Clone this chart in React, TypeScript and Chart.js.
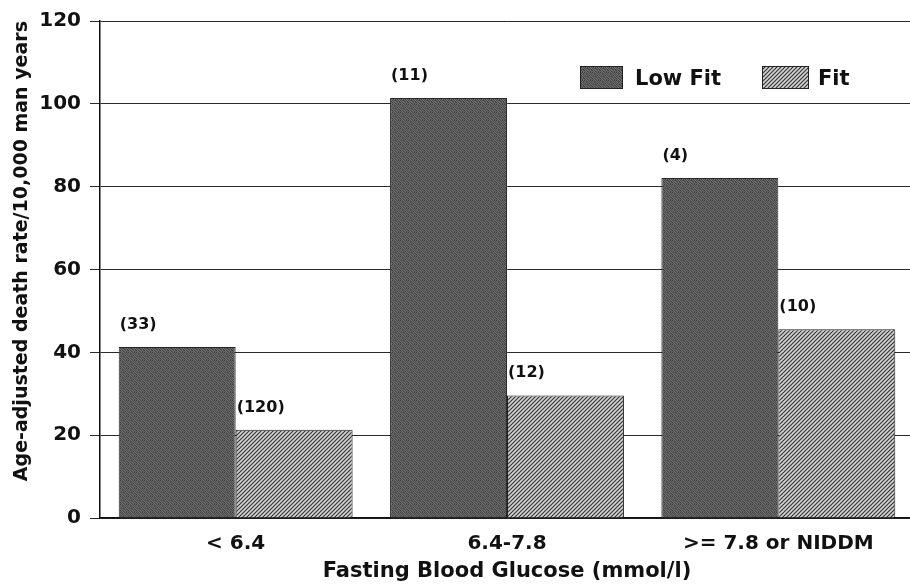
import React, { useEffect, useRef } from "react";
import { Chart, registerables } from "chart.js";

Chart.register(...registerables);

const categories = ["< 6.4", "6.4-7.8", ">= 7.8 or NIDDM"];
const lowFitValues = [41.3, 101.4, 82.1];
const fitValues = [21.3, 29.6, 45.6];
const lowFitCounts = ["(33)", "(11)", "(4)"];
const fitCounts = ["(120)", "(12)", "(10)"];
const seriesLabels = ["Low Fit", "Fit"];
const yMin = 0;
const yMax = 120;
const yStep = 20;

const FONT = "'DejaVu Sans', 'Liberation Sans', sans-serif";

function makeStipple(): CanvasPattern | string {
  const c = document.createElement("canvas");
  c.width = 8;
  c.height = 8;
  const g = c.getContext("2d");
  if (!g) return "#555555";
  const levels = [
    [62, 104, 78, 118, 70, 96, 58, 110],
    [112, 72, 98, 64, 120, 80, 106, 74],
    [84, 124, 60, 100, 76, 114, 68, 92],
    [102, 66, 116, 82, 108, 62, 122, 80],
    [70, 96, 86, 58, 94, 102, 76, 114],
    [118, 78, 110, 104, 66, 86, 98, 60],
    [64, 108, 72, 92, 120, 70, 112, 88],
    [96, 84, 122, 68, 82, 116, 64, 104],
  ];
  for (let y = 0; y < 8; y++) {
    for (let x = 0; x < 8; x++) {
      const v = levels[y][x];
      g.fillStyle = `rgb(${v},${v},${v})`;
      g.fillRect(x, y, 1, 1);
    }
  }
  const p = g.createPattern(c, "repeat");
  return p || "#555555";
}

function makeHatch(): CanvasPattern | string {
  const s = 4;
  const c = document.createElement("canvas");
  c.width = s;
  c.height = s;
  const g = c.getContext("2d");
  if (!g) return "#a0a0a0";
  g.fillStyle = "#d2d2d2";
  g.fillRect(0, 0, s, s);
  g.strokeStyle = "#333333";
  g.lineWidth = 1.1;
  g.beginPath();
  g.moveTo(-1, s + 1);
  g.lineTo(s + 1, -1);
  g.moveTo(-1, 1);
  g.lineTo(1, -1);
  g.moveTo(s - 1, s + 1);
  g.lineTo(s + 1, s - 1);
  g.stroke();
  const p = g.createPattern(c, "repeat");
  return p || "#a0a0a0";
}

const countLabelsPlugin = {
  id: "countLabels",
  afterDatasetsDraw(chart: any) {
    const ctx = chart.ctx;
    const counts = [lowFitCounts, fitCounts];
    ctx.save();
    ctx.font = `bold 16px ${FONT}`;
    ctx.fillStyle = "#111";
    ctx.textAlign = "left";
    ctx.textBaseline = "alphabetic";
    chart.data.datasets.forEach((_: any, i: number) => {
      const meta = chart.getDatasetMeta(i);
      meta.data.forEach((bar: any, j: number) => {
        const { x, y, width } = bar.getProps(["x", "y", "width"], true);
        ctx.fillText(counts[i][j], x - width / 2 + 1, y - 18);
      });
    });
    ctx.restore();
  },
};

const legendPlugin = {
  id: "boxLegend",
  afterDraw(chart: any) {
    const ctx = chart.ctx;
    const area = chart.chartArea;
    const items = [
      { x: area.left + 480, w: 43, textX: area.left + 535 },
      { x: area.left + 662, w: 47, textX: area.left + 718 },
    ];
    const top = area.top + 45;
    const h = 23;
    ctx.save();
    ctx.font = `bold 21px ${FONT}`;
    ctx.textBaseline = "alphabetic";
    ctx.textAlign = "left";
    chart.data.datasets.forEach((ds: any, i: number) => {
      const it = items[i];
      ctx.fillStyle = ds.backgroundColor;
      ctx.fillRect(it.x, top, it.w, h);
      ctx.strokeStyle = "#222";
      ctx.lineWidth = 1;
      ctx.strokeRect(it.x + 0.5, top + 0.5, it.w - 1, h - 1);
      ctx.fillStyle = "#111";
      ctx.fillText(ds.label, it.textX, top + 19);
    });
    ctx.restore();
  },
};

export default function App() {
  const ref = useRef<HTMLCanvasElement | null>(null);

  useEffect(() => {
    if (!ref.current) return;
    const chart = new Chart(ref.current, {
      type: "bar",
      data: {
        labels: categories,
        datasets: [
          {
            label: seriesLabels[0],
            data: lowFitValues,
            backgroundColor: makeStipple() as any,
            borderColor: "#2a2a2a",
            borderWidth: 1,
            categoryPercentage: 0.862,
            barPercentage: 1.0,
          },
          {
            label: seriesLabels[1],
            data: fitValues,
            backgroundColor: makeHatch() as any,
            borderColor: "#222",
            borderWidth: 1,
            categoryPercentage: 0.862,
            barPercentage: 1.0,
          },
        ],
      },
      options: {
        responsive: true,
        maintainAspectRatio: false,
        animation: false,
        layout: { padding: { top: 20, right: 0, bottom: 0, left: 0 } },
        plugins: {
          legend: { display: false },
          tooltip: { enabled: false },
        },
        scales: {
          x: {
            grid: { display: false, drawTicks: false },
            border: { display: true, color: "#111", width: 1.5 },
            ticks: {
              color: "#111",
              font: { family: FONT, size: 20, weight: "bold" },
              padding: 14,
              maxRotation: 0,
              autoSkip: false,
            },
            title: {
              display: true,
              text: "Fasting Blood Glucose (mmol/l)",
              color: "#111",
              font: { family: FONT, size: 21, weight: "bold" },
              padding: { top: 0, bottom: 0 },
            },
            afterFit(scale: any) {
              scale.height = 66;
            },
          },
          y: {
            min: yMin,
            max: yMax,
            ticks: {
              stepSize: yStep,
              color: "#111",
              font: { family: FONT, size: 20, weight: "bold" },
              padding: 9,
            },
            grid: {
              color: "#2a2a2a",
              lineWidth: 1,
              tickLength: 10,
              drawTicks: true,
            },
            border: { display: true, color: "#111", width: 1.5 },
            title: {
              display: true,
              text: "Age-adjusted death rate/10,000 man years",
              color: "#111",
              align: "end",
              font: { family: FONT, size: 19, weight: "bold" },
              padding: { top: 11, bottom: 0 },
            },
            afterFit(scale: any) {
              scale.width = 100;
            },
          },
        },
      },
      plugins: [countLabelsPlugin, legendPlugin],
    });
    return () => chart.destroy();
  }, []);

  return (
    <div
      style={{
        position: "fixed",
        left: 0,
        top: 0,
        width: 910,
        height: 584,
        overflow: "hidden",
        background: "#fff",
      }}
    >
      <div style={{ position: "relative", width: 914, height: 584 }}>
        <canvas ref={ref} />
      </div>
    </div>
  );
}
